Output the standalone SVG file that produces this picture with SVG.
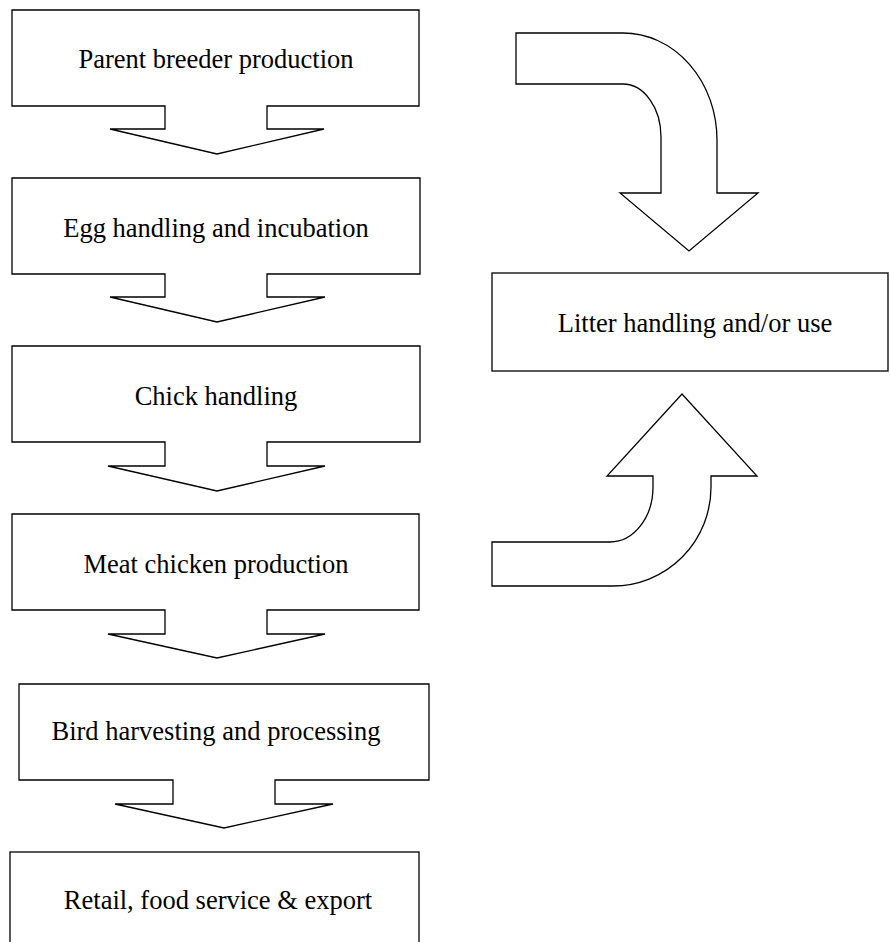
<svg xmlns="http://www.w3.org/2000/svg" width="890" height="942" viewBox="0 0 890 942">
<style>
.s{fill:#fff;stroke:#000;stroke-width:1.3;stroke-linejoin:miter}
.t{font-family:"Liberation Serif","Times New Roman",serif;font-size:26.5px;fill:#000;text-anchor:middle}
</style>
<rect width="890" height="942" fill="#fff"/>
<g id="node-parent">
<path class="s" d="M12,10 H419 V106 H267 V129 H324 L217,154 L110,129 H165 V106 H12 Z"/>
<text class="t" x="216" y="68">Parent breeder production</text>
</g>
<g id="node-egg">
<path class="s" d="M12,178 H420 V274 H267 V297 H325 L217,322 L110,297 H165 V274 H12 Z"/>
<text class="t" x="216" y="237">Egg handling and incubation</text>
</g>
<g id="node-chick">
<path class="s" d="M12,346 H420 V442 H267 V466 H325 L217,491 L108,466 H165 V442 H12 Z"/>
<text class="t" x="216" y="405">Chick handling</text>
</g>
<g id="node-meat">
<path class="s" d="M12,514 H419 V610 H267 V634 H325 L217,658 L108,634 H165 V610 H12 Z"/>
<text class="t" x="216" y="573">Meat chicken production</text>
</g>
<g id="node-bird">
<path class="s" d="M19,684 H429 V780 H275 V804 H333 L224,828 L115,804 H173 V780 H19 Z"/>
<text class="t" x="216" y="740">Bird harvesting and processing</text>
</g>
<g id="node-retail">
<rect class="s" x="10" y="852" width="409" height="100"/>
<text class="t" x="218" y="909">Retail, food service &amp; export</text>
</g>
<g id="node-litter">
<rect class="s" x="492" y="273" width="396" height="98"/>
<text class="t" x="695" y="332">Litter handling and/or use</text>
</g>
<g id="connectors">
<path class="s" d="M516,33 H623 A94,107 0 0 1 717,140 V193 H758 L689,251 L620,193 H661 V137 A38,53 0 0 0 623,84 H516 Z"/>
<path class="s" d="M492,542 H610 A43,55 0 0 0 653,487 V476 H607 L682,394 L757,476 H711 V487 A98,99 0 0 1 613,586 H492 Z"/>
</g>
</svg>
